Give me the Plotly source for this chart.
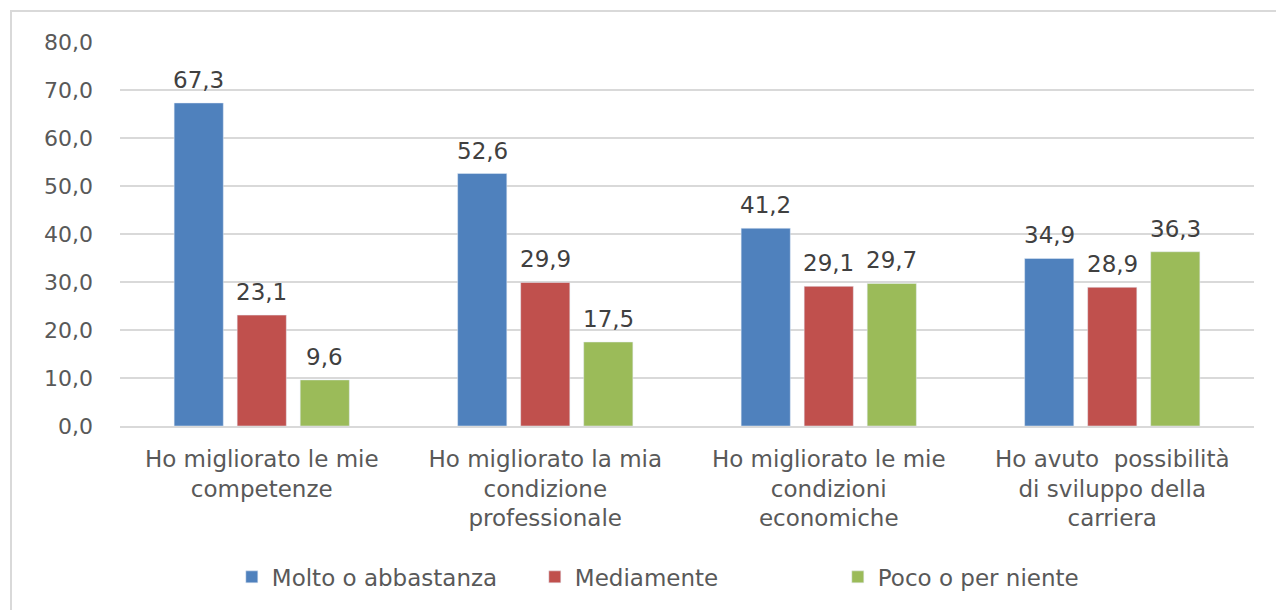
import plotly.graph_objects as go

categories = [
    "Ho migliorato le mie<br>competenze",
    "Ho migliorato la mia<br>condizione<br>professionale",
    "Ho migliorato le mie<br>condizioni<br>economiche",
    "Ho avuto  possibilità<br>di sviluppo della<br>carriera",
]
molto = [67.3, 52.6, 41.2, 34.9]
mediamente = [23.1, 29.9, 29.1, 28.9]
poco = [9.6, 17.5, 29.7, 36.3]

series = [
    ("Molto o abbastanza", molto, "#4F81BD"),
    ("Mediamente", mediamente, "#C0504D"),
    ("Poco o per niente", poco, "#9BBB59"),
]

FONT = "DejaVu Sans, Open Sans, sans-serif"
slot = 1134 / 4 * (1 - 0.333) / 3  # pixel width of one bar slot

fig = go.Figure()
for i, (name, vals, col) in enumerate(series):
    fig.add_trace(go.Bar(x=categories, y=vals, name=name, marker_color=col))
    # value labels sitting a bit above each bar, like Excel does
    for c, v in zip(categories, vals):
        fig.add_annotation(x=c, y=v, xref="x", yref="y", text=f"{v:.1f}".replace(".", ","),
                           showarrow=False, yanchor="bottom", yshift=8,
                           xshift=(i - 1) * slot,
                           font=dict(size=23, color="#404040", family=FONT))

fig.update_layout(
    width=1284, height=610,
    separators=",.",
    font=dict(family=FONT, color="#595959", size=22),
    plot_bgcolor="white", paper_bgcolor="white",
    margin=dict(l=112, r=38, t=34, b=192),
    barmode="group", bargap=0.333, bargroupgap=0.22,
    legend=dict(orientation="h", x=0.0986, xanchor="left", y=-0.393, yanchor="middle",
                font=dict(size=23), itemwidth=30, entrywidth=258, traceorder="normal"),
    showlegend=True,
)
fig.update_yaxes(range=[0, 80], dtick=10, tickformat=".1f", showgrid=True,
                 gridcolor="#D9D9D9", gridwidth=2, zeroline=False,
                 tickfont=dict(size=22), ticks="", ticklabelstandoff=26)
fig.update_xaxes(showline=True, linecolor="#D9D9D9", linewidth=2,
                 tickfont=dict(size=23), ticks="", ticklabelstandoff=11)
fig.add_shape(type="rect", xref="paper", yref="paper",
              x0=-0.0961, x1=1.1, y0=-1, y1=1.0807,
              line=dict(color="#D9D9D9", width=2), fillcolor="rgba(0,0,0,0)", layer="below")

fig.write_html("out.html")
